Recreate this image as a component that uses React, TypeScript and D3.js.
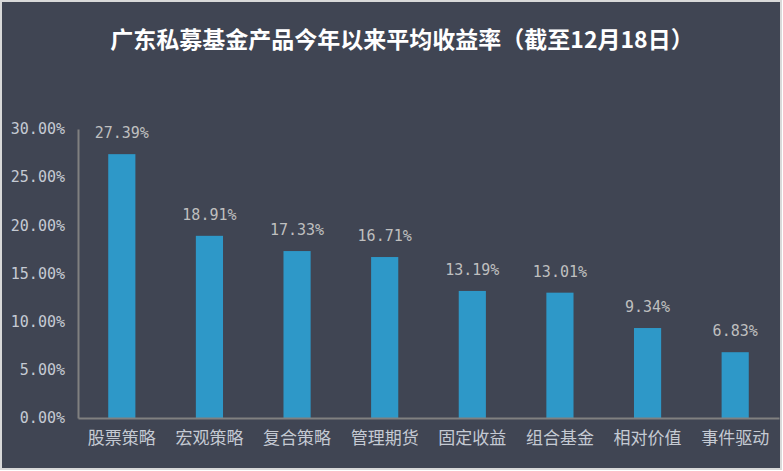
import React, { useRef, useEffect } from "react";
import * as d3 from "d3";

const categories = ["股票策略", "宏观策略", "复合策略", "管理期货", "固定收益", "组合基金", "相对价值", "事件驱动"];
const returns = [27.39, 18.91, 17.33, 16.71, 13.19, 13.01, 9.34, 6.83];
const yTicks = [0, 5, 10, 15, 20, 25, 30];
const title = "广东私募基金产品今年以来平均收益率（截至12月18日）";

export default function App() {
  const svgRef = useRef<SVGSVGElement | null>(null);

  useEffect(() => {
    document.body.style.margin = "0";

    const W = 783;
    const H = 471;
    const margin = { top: 129, right: 4, bottom: 53, left: 78 };
    const plotW = W - margin.left - margin.right;
    const plotH = H - margin.top - margin.bottom;

    const svgEl = d3.select(svgRef.current);
    svgEl.selectAll("*").remove();
    svgEl.attr("width", W).attr("height", H);

    // background + border
    svgEl
      .append("rect")
      .attr("x", 1)
      .attr("y", 1)
      .attr("width", W - 3)
      .attr("height", H - 3)
      .attr("fill", "#404553")
      .attr("stroke", "#d9d9d9")
      .attr("stroke-width", 2);

    svgEl
      .append("text")
      .attr("x", 402)
      .attr("y", 48)
      .attr("text-anchor", "middle")
      .attr("fill", "#ffffff")
      .style("font-family", "'Noto Sans CJK SC'")
      .style("font-weight", "bold")
      .style("font-size", "23px")
      .text(title);

    const g = svgEl.append("g").attr("transform", `translate(${margin.left},${margin.top})`);

    const x = d3.scaleBand<string>().domain(categories).range([0, plotW]).paddingInner(0.69).paddingOuter(0.345);
    const y = d3.scaleLinear().domain([0, 30]).range([plotH, 0]);

    const numFont = "'DejaVu Sans Mono', 'Noto Sans CJK SC', monospace";

    // y axis labels
    const yAxis = g
      .append("g")
      .call(
        d3
          .axisLeft(y)
          .tickValues(yTicks)
          .tickSize(0)
          .tickPadding(13)
          .tickFormat((d) => `${(d as number).toFixed(2)}%`)
      );
    yAxis.select(".domain").attr("stroke", "#808080").attr("stroke-width", 2);
    yAxis
      .selectAll("text")
      .attr("fill", "#c5cad3")
      .style("font-family", numFont)
      .style("font-size", "15px");

    // bars
    g.selectAll("rect.bar")
      .data(returns)
      .enter()
      .append("rect")
      .attr("class", "bar")
      .attr("x", (_, i) => x(categories[i]) as number)
      .attr("y", (d) => y(d))
      .attr("width", x.bandwidth())
      .attr("height", (d) => plotH - y(d))
      .attr("fill", "#2e98c8");

    // value labels
    g.selectAll("text.val")
      .data(returns)
      .enter()
      .append("text")
      .attr("class", "val")
      .attr("x", (_, i) => (x(categories[i]) as number) + x.bandwidth() / 2)
      .attr("y", (d) => y(d) - 16)
      .attr("text-anchor", "middle")
      .attr("fill", "#bfbfbf")
      .style("font-family", numFont)
      .style("font-size", "15px")
      .text((d) => `${d.toFixed(2)}%`);

    // x axis
    const xAxis = g
      .append("g")
      .attr("transform", `translate(0,${plotH})`)
      .call(d3.axisBottom(x).tickSize(0).tickPadding(14));
    xAxis.select(".domain").attr("stroke", "#808080").attr("stroke-width", 2);
    xAxis
      .selectAll("text")
      .attr("fill", "#c5cad3")
      .style("font-family", "'Noto Sans CJK SC'")
      .style("font-size", "17px");
  }, []);

  return <svg ref={svgRef} style={{ display: "block" }} />;
}
